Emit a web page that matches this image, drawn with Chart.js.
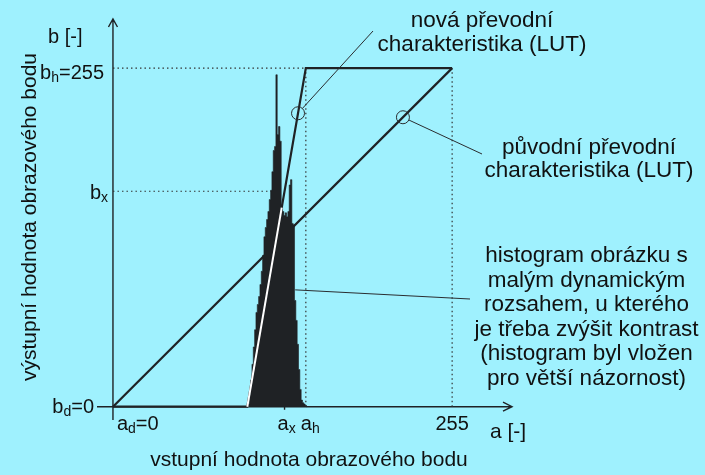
<!DOCTYPE html>
<html>
<head>
<meta charset="utf-8">
<script src="https://cdn.jsdelivr.net/npm/chart.js@4.4.1/dist/chart.umd.min.js"></script>
<style>
  html, body { margin: 0; padding: 0; background: #9ff1fe; }
</style>
</head>
<body>
<canvas id="graf" width="705" height="475"></canvas>
<script>
// histogram of the low-contrast image (input level a -> count, scaled to the b axis)
const histA = [101, 102, 103, 104, 105, 106, 107, 108, 109, 110, 111, 112, 113, 114, 115, 116,
  117, 118, 119, 120, 121, 122, 123, 124, 125, 126, 127, 128, 129, 130, 131, 132, 133, 134,
  135, 136, 137, 138, 139, 140, 141, 142, 143, 144, 145, 146];
const histN = [0, 2, 9, 20, 32, 45, 58, 71, 77, 83, 92, 102, 114, 128, 135, 141,
  147, 156, 163, 177, 193, 196, 250, 205, 211, 200, 152, 147, 144, 146, 143, 147, 167, 171,
  138, 137, 80, 65, 47, 28, 13, 5, 3, 2, 1, 0];

// original LUT (identity) and the new stretched LUT
const lutPuvodniA = [0, 255];
const lutPuvodniB = [0, 255];
const lutNovaA = [0, 101, 145, 255];
const lutNovaB = [0, 0, 255, 255];

const aX = 129;     // a_x
const aH = 145;     // a_h
const bH = 255;     // b_h
const aMax = 255;

const ink = '#1f2225';
const FONT = '"Liberation Sans", Arial, sans-serif';

function novaLut(a) {
  for (let i = 1; i < lutNovaA.length; i++) {
    if (a <= lutNovaA[i]) {
      const t = (a - lutNovaA[i - 1]) / (lutNovaA[i] - lutNovaA[i - 1]);
      return lutNovaB[i - 1] + t * (lutNovaB[i] - lutNovaB[i - 1]);
    }
  }
  return lutNovaB[lutNovaB.length - 1];
}
// inverse on the rising part of the new LUT
function novaLutInv(b) {
  return lutNovaA[1] + (lutNovaA[2] - lutNovaA[1]) * b / bH;
}
const bX = novaLut(aX);

const pts = (xs, ys) => xs.map((x, i) => ({ x: x, y: ys[i] }));

function lineSet(data, color, width, order, dash) {
  return {
    type: 'line', data: data, borderColor: color, borderWidth: width,
    borderDash: dash || [], pointRadius: 0, fill: false, tension: 0,
    order: order, clip: false
  };
}

// text with subscripts: parts = [[text, isSub], ...]
function drawParts(ctx, parts, x, y, align, size) {
  const sub = Math.round(size * 0.68);
  let w = 0;
  parts.forEach(p => {
    ctx.font = (p[1] ? sub : size) + 'px ' + FONT;
    w += ctx.measureText(p[0]).width;
  });
  let cx = align === 'right' ? x - w : align === 'center' ? x - w / 2 : x;
  ctx.textAlign = 'left';
  ctx.textBaseline = 'alphabetic';
  parts.forEach(p => {
    ctx.font = (p[1] ? sub : size) + 'px ' + FONT;
    ctx.fillText(p[0], cx, p[1] ? y + 3 : y);
    cx += ctx.measureText(p[0]).width;
  });
}

function drawBlock(ctx, lines, cx, y0, step, size) {
  ctx.font = size + 'px ' + FONT;
  ctx.textAlign = 'center';
  ctx.textBaseline = 'alphabetic';
  lines.forEach((t, i) => ctx.fillText(t, cx, y0 + i * step));
}

const popisky = {
  id: 'popisky',
  beforeDraw(chart) {
    const ctx = chart.ctx;
    ctx.save();
    ctx.fillStyle = '#9ff1fe';
    ctx.fillRect(0, 0, chart.width, chart.height);
    ctx.restore();
  },
  beforeDatasetsDraw(chart) {
    const ctx = chart.ctx;
    const sx = chart.scales.x, sy = chart.scales.y;
    const x0 = sx.getPixelForValue(0), y0 = sy.getPixelForValue(0);
    const xEnd = sx.getPixelForValue(sx.max), yEnd = sy.getPixelForValue(sy.max);
    ctx.save();
    ctx.strokeStyle = ink;
    ctx.lineWidth = 1.4;
    ctx.beginPath();
    // x axis with arrow
    ctx.moveTo(sx.getPixelForValue(sx.min), y0);
    ctx.lineTo(xEnd, y0);
    ctx.moveTo(xEnd - 9, y0 - 4.5);
    ctx.lineTo(xEnd, y0);
    ctx.lineTo(xEnd - 9, y0 + 4.5);
    // y axis with arrow
    ctx.moveTo(x0, sy.getPixelForValue(sy.min));
    ctx.lineTo(x0, yEnd);
    ctx.moveTo(x0 - 4.5, yEnd + 8);
    ctx.lineTo(x0, yEnd);
    ctx.lineTo(x0 + 4.5, yEnd + 8);
    // small tick at a_x
    ctx.moveTo(sx.getPixelForValue(aX), y0);
    ctx.lineTo(sx.getPixelForValue(aX), y0 + 3);
    ctx.stroke();
    ctx.restore();
  },
  afterDatasetsDraw(chart) {
    const ctx = chart.ctx;
    const sx = chart.scales.x, sy = chart.scales.y;
    const px = v => sx.getPixelForValue(v);
    const py = v => sy.getPixelForValue(v);
    ctx.save();

    // markers and leader lines
    ctx.strokeStyle = '#2a2d30';
    ctx.lineWidth = 1;
    const leader = (cx, cy, tx, ty, r) => {
      if (r) {
        ctx.beginPath();
        ctx.arc(cx, cy, r, 0, Math.PI * 2);
        ctx.stroke();
      }
      const d = Math.hypot(tx - cx, ty - cy);
      ctx.beginPath();
      ctx.moveTo(cx + (tx - cx) * r / d, cy + (ty - cy) * r / d);
      ctx.lineTo(tx, ty);
      ctx.stroke();
    };
    const bKruh = 221;
    leader(px(novaLutInv(bKruh)), py(bKruh), 373, 31, 6.5);
    leader(px(218), py(218), 482, 154, 6.5);
    leader(px(137), py(88), 470, 299, 0);

    ctx.fillStyle = '#111';
    // axis labels
    drawParts(ctx, [['b [-]', false]], 48, 43, 'left', 20);
    drawParts(ctx, [['b', false], ['h', true], ['=' + bH, false]], 104, py(bH) + 11, 'right', 20);
    drawParts(ctx, [['b', false], ['x', true]], 108, py(bX) + 8, 'right', 20);
    drawParts(ctx, [['b', false], ['d', true], ['=0', false]], 94, py(0) + 6, 'right', 20);
    drawParts(ctx, [['a', false], ['d', true], ['=0', false]], px(0) + 4, py(0) + 23, 'left', 20);
    drawParts(ctx, [['a', false], ['x', true]], px(aX) - 7, py(0) + 23, 'left', 20);
    drawParts(ctx, [['a', false], ['h', true]], px(aH) - 5, py(0) + 23, 'left', 20);
    drawParts(ctx, [[String(aMax), false]], px(aMax), py(0) + 23, 'center', 20);
    drawParts(ctx, [['a [-]', false]], 490, py(0) + 31, 'left', 21);

    // axis titles
    ctx.font = '21px ' + FONT;
    ctx.textAlign = 'center';
    ctx.fillText('vstupní hodnota obrazového bodu', 309, 466);
    ctx.save();
    ctx.translate(36, 217);
    ctx.rotate(-Math.PI / 2);
    ctx.fillText('výstupní hodnota obrazového bodu', 0, 0);
    ctx.restore();

    // notes
    drawBlock(ctx, ['nová převodní', 'charakteristika (LUT)'], 482, 27, 24, 22.5);
    drawBlock(ctx, ['původní převodní', 'charakteristika (LUT)'], 589, 153.5, 23.5, 22.5);
    drawBlock(ctx, ['histogram obrázku s', 'malým dynamickým', 'rozsahem, u kterého',
      'je třeba zvýšit kontrast', '(histogram byl vložen', 'pro větší názornost)'],
      586.5, 262, 24.5, 22.5);
    ctx.restore();
  }
};

new Chart(document.getElementById('graf'), {
  type: 'line',
  data: {
    datasets: [
      // part of the new LUT that crosses the histogram is drawn white
      lineSet([{ x: lutNovaA[1], y: 0 }, { x: novaLutInv(150), y: 150 }], '#ffffff', 2, 0),
      // histogram as a filled step outline, one bin per input level
      {
        type: 'line',
        data: pts(histA, histN),
        stepped: 'middle',
        fill: 'origin',
        backgroundColor: ink,
        borderColor: ink,
        borderWidth: 0.6,
        pointRadius: 0,
        order: 1
      },
      lineSet(pts(lutNovaA, lutNovaB), ink, 2.2, 2),
      lineSet(pts(lutPuvodniA, lutPuvodniB), ink, 2.2, 3),
      lineSet([{ x: 0, y: bH }, { x: aMax, y: bH }], '#333', 1.2, 4, [1.5, 3]),
      lineSet([{ x: 0, y: bX }, { x: aX, y: bX }], '#333', 1.2, 4, [1.5, 3]),
      lineSet([{ x: aH, y: 0 }, { x: aH, y: bH }], '#333', 1.2, 4, [1.5, 3]),
      lineSet([{ x: aMax, y: 0 }, { x: aMax, y: bH }], '#333', 1.2, 4, [1.5, 3])
    ]
  },
  options: {
    responsive: false,
    devicePixelRatio: 1,
    animation: false,
    layout: { padding: { left: 97, right: 193, top: 19, bottom: 55 } },
    plugins: { legend: { display: false }, tooltip: { enabled: false } },
    scales: {
      x: { type: 'linear', min: -12, max: 300, display: false },
      y: { type: 'linear', min: -10, max: 292, display: false }
    }
  },
  plugins: [popisky]
});
</script>
</body>
</html>
